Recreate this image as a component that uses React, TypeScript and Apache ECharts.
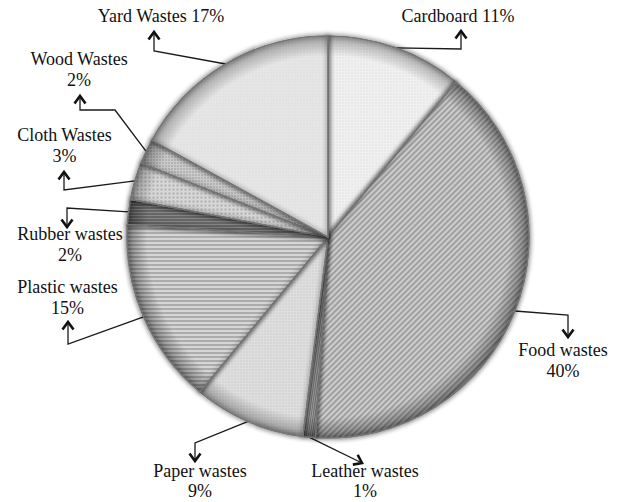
import { useEffect, useRef } from "react";
import * as echarts from "echarts";

// ---- data ----
const categories = [
  "Cardboard",
  "Food wastes",
  "Leather wastes",
  "Paper wastes",
  "Plastic wastes",
  "Rubber wastes",
  "Cloth Wastes",
  "Wood Wastes",
  "Yard Wastes",
];
const shares = [11, 40, 1, 9, 15, 2, 3, 2, 17];
const singleLineLabel = [true, false, false, false, false, false, false, false, true];

// ---- styling / layout (not data) ----
const CX = 328;
const CY = 237;
const R = 201;
const baseColors = ["#f3f3f3", "#e6e6e6", "#c4c4c4", "#e2e2e2", "#eeeeee", "#a2a2a2", "#e0e0e0", "#d6d6d6", "#e8e8e8"];
const rimColors = ["#a8a8a8", "#8a8a8a", "#7a7a7a", "#9a9a9a", "#909090", "#666666", "#999999", "#8c8c8c", "#a0a0a0"];
const decals: any[] = [
  { symbol: "circle", symbolSize: 0.6, dashArrayX: [[2, 1]], dashArrayY: [2, 1], color: "rgba(0,0,0,0.08)" },
  { symbol: "rect", symbolSize: 1, dashArrayX: [1, 0], dashArrayY: [2, 2], rotation: -Math.PI / 4, color: "rgba(0,0,0,0.22)" },
  { symbol: "rect", symbolSize: 1, dashArrayX: [1, 0], dashArrayY: [1, 1], rotation: Math.PI / 2.2, color: "rgba(0,0,0,0.3)" },
  { symbol: "circle", symbolSize: 0.6, dashArrayX: [[2, 1]], dashArrayY: [2, 1], color: "rgba(0,0,0,0.1)" },
  { symbol: "rect", symbolSize: 1, dashArrayX: [1, 0], dashArrayY: [2, 2], color: "rgba(0,0,0,0.2)" },
  { symbol: "rect", symbolSize: 1, dashArrayX: [1, 0], dashArrayY: [2, 1], color: "rgba(0,0,0,0.25)" },
  { symbol: "circle", symbolSize: 0.8, dashArrayX: [[3, 1]], dashArrayY: [3, 1], color: "rgba(0,0,0,0.16)" },
  { symbol: "circle", symbolSize: 0.8, dashArrayX: [[2, 1]], dashArrayY: [2, 1], color: "rgba(0,0,0,0.18)" },
  { symbol: "rect", symbolSize: 0.5, dashArrayX: [[2, 1]], dashArrayY: [2, 1], color: "rgba(0,0,0,0.08)" },
];
// label block: [centre x, top y, line height]
const labelPos = [
  [458, 5, 21],
  [563, 339, 21],
  [365, 461, 20],
  [200, 461, 20],
  [67.5, 276, 21],
  [70, 223, 21],
  [64.5, 124, 21],
  [79, 48, 21],
  [161, 5, 21],
];
// leader bends after the start point on the pie rim; last point is arrow tip
const leaderBends = [
  [[461, 49], [461, 31]],
  [[568, 315], [568, 337]],
  [[362, 463]],
  [[195, 443], [195, 461]],
  [[68, 344], [68, 322]],
  [[67, 208], [67, 227]],
  [[64, 190], [64, 172]],
  [[115, 110], [80, 110], [80, 96]],
  [[154, 51], [154, 32]],
];

const FONT = "'Liberation Serif', 'Times New Roman', serif";

function rimPoint(i: number): number[] {
  const total = shares.reduce((a, b) => a + b, 0);
  let cum = 0;
  for (let k = 0; k < i; k++) cum += shares[k];
  const frac = (cum + shares[i] / 2) / total;
  const a = frac * Math.PI * 2;
  return [CX + R * Math.sin(a), CY - R * Math.cos(a)];
}

export default function App() {
  const ref = useRef<HTMLDivElement>(null);
  useEffect(() => {
    if (!ref.current) return;
    const chart = echarts.init(ref.current, undefined, { renderer: "svg" });

    const arrows = leaderBends.map((pts, i) => {
      const tip = pts[pts.length - 1];
      const from = pts.length > 1 ? pts[pts.length - 2] : rimPoint(i);
      let dx = tip[0] - from[0];
      let dy = tip[1] - from[1];
      const len = Math.hypot(dx, dy) || 1;
      dx /= len;
      dy /= len;
      const L = 7.5;
      const W = 5.5;
      const bx = tip[0] - dx * L;
      const by = tip[1] - dy * L;
      return {
        type: "polyline",
        silent: true,
        z: 100,
        shape: {
          points: [
            [bx - dy * W, by + dx * W],
            [tip[0], tip[1]],
            [bx + dy * W, by - dx * W],
          ],
        },
        style: { stroke: "#111", lineWidth: 2.6, fill: "none", lineJoin: "miter" },
      };
    });

    const data = categories.map((name, i) => ({
      name,
      value: shares[i],
      label: { lineHeight: labelPos[i][2] },
      itemStyle: {
        color: {
          type: "radial",
          x: CX,
          y: CY,
          r: R,
          global: true,
          colorStops: [
            { offset: 0, color: baseColors[i] },
            { offset: 0.9, color: baseColors[i] },
            { offset: 1, color: rimColors[i] },
          ],
        },
        decal: decals[i],
      },
    }));

    chart.setOption({
      animation: false,
      backgroundColor: "#ffffff",
      series: [
        {
          type: "pie",
          center: [CX, CY],
          radius: R,
          startAngle: 90,
          clockwise: true,
          avoidLabelOverlap: false,
          data,
          itemStyle: {
            borderColor: "#767676",
            borderWidth: 1.2,
            shadowBlur: 5,
            shadowColor: "rgba(0,0,0,0.3)",
          },
          emphasis: { disabled: true },
          label: {
            show: true,
            position: "outside",
            fontFamily: FONT,
            fontSize: 18,
            lineHeight: 21,
            color: "#111",
            formatter: (p: any) =>
              singleLineLabel[p.dataIndex] ? `${p.name} ${p.value}%` : `${p.name}\n${p.value}%`,
          },
          labelLine: {
            show: true,
            smooth: false,
            lineStyle: { color: "#1a1a1a", width: 1.3 },
          },
          labelLayout: (params: any) => {
            const i = params.dataIndex;
            const start =
              params.labelLinePoints && params.labelLinePoints[0]
                ? params.labelLinePoints[0]
                : rimPoint(i);
            return {
              x: labelPos[i][0],
              y: labelPos[i][1],
              align: "center",
              verticalAlign: "top",
              labelLinePoints: [start, ...leaderBends[i]],
            };
          },
        },
      ],
      graphic: arrows,
    });
    return () => chart.dispose();
  }, []);
  return (
    <div
      ref={ref}
      style={{ position: "fixed", left: 0, top: 0, width: 617, height: 502, background: "#fff" }}
    />
  );
}
